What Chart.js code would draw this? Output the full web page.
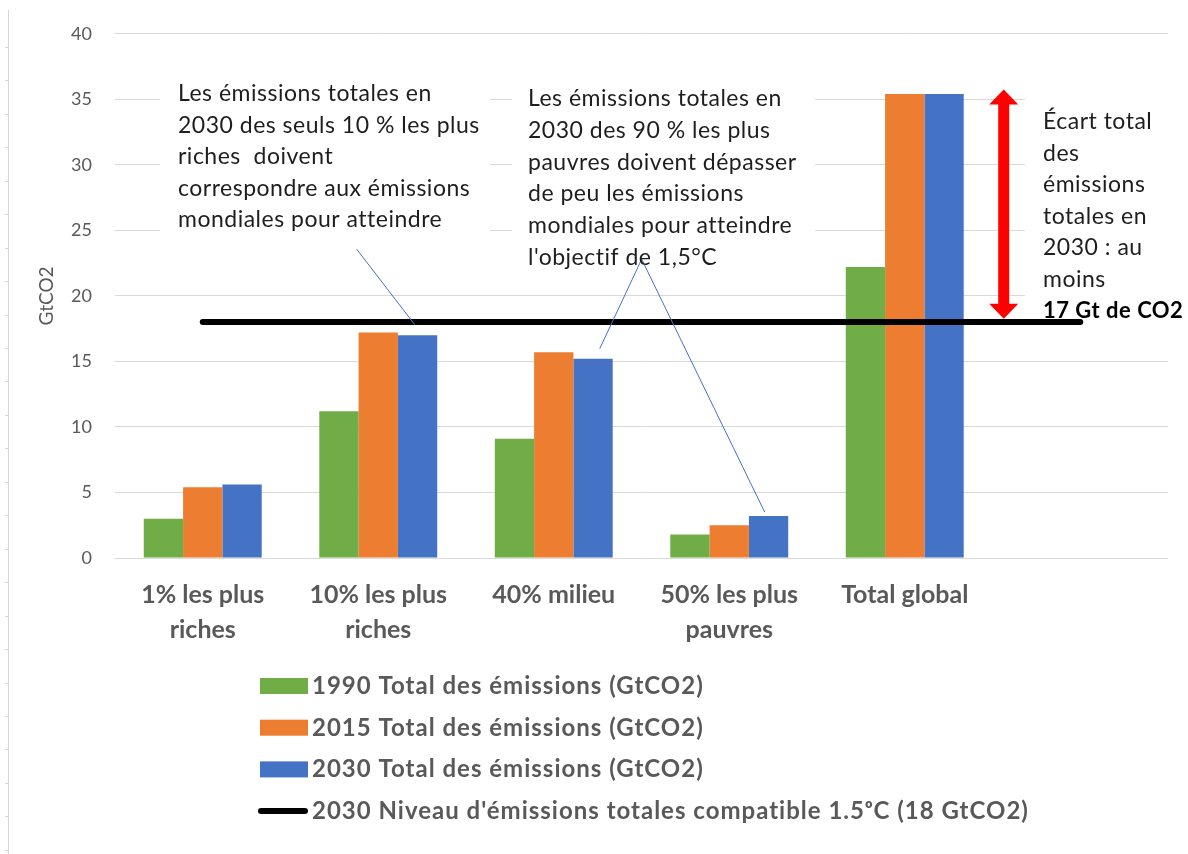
<!DOCTYPE html>
<html>
<head>
<meta charset="utf-8">
<script src="https://cdn.jsdelivr.net/npm/chart.js@4.4.1/dist/chart.umd.min.js"></script>
<style>
  html, body { margin: 0; padding: 0; background: #ffffff; }
  #wrap { position: relative; width: 1188px; height: 854px; }
</style>
</head>
<body>
<div id="wrap"><canvas id="c" width="1188" height="854"></canvas></div>
<script>
// ---- data ----
const categories = [
  ['1% les plus', 'riches'],
  ['10% les plus', 'riches'],
  ['40% milieu'],
  ['50% les plus', 'pauvres'],
  ['Total global'],
  ''
];
const emissions1990 = [3.0, 11.2, 9.1, 1.8, 22.2, null];
const emissions2015 = [5.4, 17.2, 15.7, 2.5, 35.4, null];
const emissions2030 = [5.6, 17.0, 15.2, 3.2, 35.4, null];
const target15 = [18, 18, 18, 18, 18, 18];
const seriesLabels = [
  '1990 Total des émissions (GtCO2)',
  '2015 Total des émissions (GtCO2)',
  '2030 Total des émissions (GtCO2)',
  "2030 Niveau d'émissions totales compatible 1.5\u1D52C (18 GtCO2)"
];
const yMin = 0, yMax = 40, yStep = 5;
const yTitle = 'GtCO2';

// callout texts
const noteRiches = [
  'Les émissions totales en',
  '2030 des seuls 10 % les plus',
  'riches  doivent',
  'correspondre aux émissions',
  'mondiales pour atteindre'
];
const notePauvres = [
  'Les émissions totales en',
  '2030 des 90 % les plus',
  'pauvres doivent dépasser',
  'de peu les émissions',
  'mondiales pour atteindre',
  "l'objectif de 1,5°C"
];
const noteEcart = [
  'Écart total',
  'des',
  'émissions',
  'totales en',
  '2030 : au',
  'moins'
];
const noteEcartBold = '17 Gt de CO2';
const gapTop = 35.75, gapBottom = 18.25;

const GREEN = '#70AD47', ORANGE = '#ED7D31', BLUE = '#4472C4', BLACK = '#000000';
const FONT = 'Lato, "Open Sans", sans-serif';
const AXIS_GREY = '#595959';
const TEXT_DARK = '#1e1e1e';

// ---- drawing helpers ----
function drawLines(ctx, lines, x, y0, step) {
  lines.forEach((t, i) => ctx.fillText(t, x, y0 + i * step));
}

const pageFrame = {
  id: 'pageFrame',
  beforeDraw(chart) {
    const ctx = chart.ctx;
    ctx.save();
    ctx.fillStyle = '#ffffff';
    ctx.fillRect(0, 0, chart.width, chart.height);
    ctx.strokeStyle = '#d6d6d6';
    ctx.lineWidth = 1;
    ctx.beginPath();
    ctx.moveTo(8.5, 10);
    ctx.lineTo(8.5, chart.height);
    for (let yy = 47; yy < chart.height; yy += 33.45) {
      ctx.moveTo(5, Math.round(yy) + 0.5);
      ctx.lineTo(8.5, Math.round(yy) + 0.5);
    }
    ctx.stroke();
    ctx.restore();
  }
};

// white text boxes that hide the gridlines behind the notes
const noteBoxes = {
  id: 'noteBoxes',
  beforeDatasetsDraw(chart) {
    const ctx = chart.ctx;
    ctx.save();
    ctx.fillStyle = '#ffffff';
    ctx.fillRect(160, 68, 330, 172);
    ctx.fillRect(512, 78, 303, 194);
    ctx.fillRect(1025, 84, 163, 226);
    ctx.restore();
  }
};

const notes = {
  id: 'notes',
  afterDatasetsDraw(chart) {
    const ctx = chart.ctx;
    const xs = chart.scales.x, ys = chart.scales.y;
    const px = v => xs.getPixelForValue(v);
    const py = v => ys.getPixelForValue(v);
    ctx.save();

    // callout leaders
    ctx.strokeStyle = BLUE;
    ctx.lineWidth = 1;
    ctx.beginPath();
    ctx.moveTo(px(0.877), py(23.57));
    ctx.lineTo(px(1.208), py(17.8));
    ctx.moveTo(px(2.262), py(15.97));
    ctx.lineTo(px(2.501), py(22.8));
    ctx.lineTo(px(3.202), py(3.5));
    ctx.stroke();

    // red double arrow for the gap
    const ax = px(4.564);
    const top = py(gapTop), bot = py(gapBottom);
    const headL = 15, headW = 14.5, shaftW = 5.5;
    ctx.fillStyle = '#FF0000';
    ctx.beginPath();
    ctx.moveTo(ax, top);
    ctx.lineTo(ax + headW, top + headL);
    ctx.lineTo(ax + shaftW, top + headL);
    ctx.lineTo(ax + shaftW, bot - headL);
    ctx.lineTo(ax + headW, bot - headL);
    ctx.lineTo(ax, bot);
    ctx.lineTo(ax - headW, bot - headL);
    ctx.lineTo(ax - shaftW, bot - headL);
    ctx.lineTo(ax - shaftW, top + headL);
    ctx.lineTo(ax - headW, top + headL);
    ctx.closePath();
    ctx.fill();

    // note texts
    ctx.fillStyle = TEXT_DARK;
    ctx.textBaseline = 'alphabetic';
    ctx.textAlign = 'left';
    ctx.font = '23px ' + FONT;
    ctx.letterSpacing = '0.5px';
    drawLines(ctx, noteRiches, 178, 101, 31.5);
    drawLines(ctx, notePauvres, 528, 106, 31.8);
    drawLines(ctx, noteEcart, 1043, 129, 31.5);
    ctx.fillStyle = '#000000';
    ctx.font = 'bold 22px ' + FONT;
    ctx.fillText(noteEcartBold, 1043, 318);
    ctx.letterSpacing = '0px';
    ctx.restore();
  }
};

// vertical legend below the axis
const stackedLegend = {
  id: 'stackedLegend',
  afterDraw(chart) {
    const ctx = chart.ctx;
    const ds = chart.data.datasets;
    ctx.save();
    ctx.font = 'bold 24px ' + FONT;
    ctx.letterSpacing = '1px';
    ctx.textBaseline = 'alphabetic';
    ctx.textAlign = 'left';
    const baseY = 694, stepY = 41.7;
    const order = [1, 2, 3, 0];
    order.forEach((di, row) => {
      const d = ds[di];
      const by = baseY + row * stepY;
      if (d.type === 'line') {
        ctx.strokeStyle = d.borderColor;
        ctx.lineWidth = 6;
        ctx.lineCap = 'round';
        ctx.beginPath();
        ctx.moveTo(261, by - 8);
        ctx.lineTo(305, by - 8);
        ctx.stroke();
      } else {
        ctx.fillStyle = d.backgroundColor;
        ctx.fillRect(260, by - 16, 48, 16);
      }
      ctx.fillStyle = AXIS_GREY;
      ctx.fillText(d.label, 312, by);
    });
    ctx.letterSpacing = '0px';
    ctx.restore();
  }
};

const ctx = document.getElementById('c').getContext('2d');
new Chart(ctx, {
  type: 'bar',
  data: {
    labels: categories,
    datasets: [
      {
        type: 'line',
        label: seriesLabels[3],
        data: target15,
        borderColor: BLACK,
        backgroundColor: BLACK,
        borderWidth: 6,
        borderCapStyle: 'round',
        pointRadius: 0,
        fill: false,
        order: 0
      },
      { label: seriesLabels[0], data: emissions1990, backgroundColor: GREEN, order: 1 },
      { label: seriesLabels[1], data: emissions2015, backgroundColor: ORANGE, order: 1 },
      { label: seriesLabels[2], data: emissions2030, backgroundColor: BLUE, order: 1 }
    ]
  },
  options: {
    responsive: false,
    devicePixelRatio: 1,
    animation: false,
    layout: { padding: { left: 0, right: 20, top: 32, bottom: 0 } },
    datasets: {
      bar: { categoryPercentage: 0.672, barPercentage: 1.0, borderWidth: 0 }
    },
    plugins: {
      legend: { display: false },
      tooltip: { enabled: false },
      title: { display: false }
    },
    scales: {
      x: {
        grid: { display: false, drawTicks: false },
        border: { display: false },
        ticks: {
          color: AXIS_GREY,
          font: { family: FONT, size: 25, weight: 'bold', lineHeight: 1.4 },
          padding: 19,
          maxRotation: 0,
          autoSkip: false
        },
        afterFit(scale) { scale.height = 296; }
      },
      y: {
        min: yMin,
        max: yMax,
        grid: { color: '#d9d9d9', lineWidth: 1, drawTicks: false },
        border: { display: false },
        ticks: {
          stepSize: yStep,
          color: AXIS_GREY,
          font: { family: FONT, size: 18 },
          padding: 23
        },
        title: {
          display: true,
          text: yTitle,
          color: AXIS_GREY,
          font: { family: FONT, size: 19 },
          padding: { top: 35, bottom: 0 }
        },
        afterFit(scale) { scale.width = 115; }
      }
    }
  },
  plugins: [pageFrame, noteBoxes, notes, stackedLegend]
});
</script>
</body>
</html>
